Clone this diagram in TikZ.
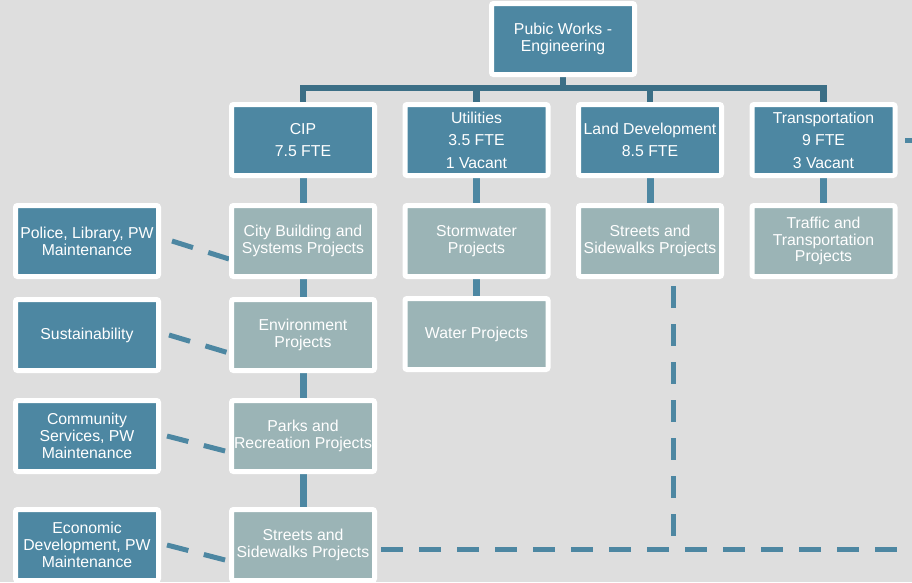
\documentclass[tikz,border=0pt]{standalone}
\usepackage{fontspec}
\setmainfont{Liberation Sans}
\usetikzlibrary{positioning,backgrounds}
\definecolor{pwblue}{HTML}{4D87A2}
\definecolor{pwsage}{HTML}{9BB4B6}
\definecolor{pwdark}{HTML}{3C6F86}
\definecolor{pwbg}{HTML}{DEDEDE}

\begin{document}
\begin{tikzpicture}[x=1pt,y=-1pt,
    box/.style={draw=white,line width=5pt,rounded corners=2pt,text=white,align=center,inner sep=0pt,
      minimum width=143pt,minimum height=71pt,font=\fontsize{15.8}{16.8}\selectfont},
    dbox/.style={box,fill=pwblue},
    lbox/.style={box,fill=pwsage},
    unit/.style={dbox,font=\fontsize{15.8}{22.5}\selectfont},
    bus/.style={draw=pwdark,line width=6.5pt},
    stem/.style={draw=pwblue,line width=7pt},
    dashlink/.style={draw=pwblue,line width=5pt,dash pattern=on 22pt off 16pt}]
  \useasboundingbox (0,0) rectangle (912,582);

  % top and divisions
  \node[dbox] (pwe) at (563,39) {Pubic Works -\\Engineering};
  \node[unit] (cip) at (303,140) {CIP\\7.5 FTE};
  \node[unit,right=25.5pt of cip] (util) {Utilities\\3.5 FTE\\1 Vacant};
  \node[unit,right=25.5pt of util] (land) {Land Development\\8.5 FTE};
  \node[unit,right=25.5pt of land] (trans) {Transportation\\9 FTE\\3 Vacant};

  % project groups
  \node[lbox,below=25pt of cip] (cbs) {City Building and\\Systems Projects};
  \node[lbox,below=18pt of cbs] (env) {Environment\\Projects};
  \node[lbox,below=25pt of env] (parks) {Parks and\\Recreation Projects};
  \node[lbox,below=33pt of parks] (cips) {Streets and\\Sidewalks Projects};
  \node[lbox,below=25pt of util] (storm) {Stormwater\\Projects};
  \node[lbox,below=17pt of storm] (water) {Water Projects};
  \node[lbox,below=25pt of land] (lds) {Streets and\\Sidewalks Projects};
  \node[lbox,below=25pt of trans] (traffic) {Traffic and\\Transportation\\Projects};

  % partners
  \node[dbox,left=68pt of cbs] (pol) {Police, Library, PW\\Maintenance};
  \node[dbox,left=68pt of env] (sus) {Sustainability};
  \node[dbox,left=68pt of parks] (com) {Community\\Services, PW\\Maintenance};
  \node[dbox,left=68pt of cips] (eco) {Economic\\Development, PW\\Maintenance};

  \coordinate (busy) at (0,88);
  \coordinate (rim) at (915,0);
  \path ([yshift=8pt]cips.east -| 673,0) coordinate (jn);
  \coordinate (offr) at (915,140);

  \begin{scope}[on background layer]
    \fill[pwbg] (0,0) rectangle (912,582);
    \draw[bus] (pwe.south) -- (pwe.south |- busy);
    \draw[bus] (cip.north) -- (cip.north |- busy) -- (trans.north |- busy) -- (trans.north);
    \foreach \u in {util,land} \draw[bus] (\u.north) -- (\u.north |- busy);
    \draw[stem] (cip) -- (cbs) -- (env) -- (parks) -- (cips);
    \draw[stem] (util) -- (storm) -- (water);
    \draw[stem] (land) -- (lds);
    \draw[stem] (trans) -- (traffic);
    \draw[stem,line width=5pt] ([xshift=7.5pt]trans.east) -- (offr);
    \draw[dashlink] ([xshift=11pt]pol.east) -- ([yshift=-18pt]cbs.west);
    \draw[dashlink] ([xshift=8pt]sus.east) -- ([yshift=-18pt]env.west);
    \draw[dashlink] ([xshift=6pt]com.east) -- ([yshift=-16pt]parks.west);
    \draw[dashlink] ([xshift=6pt]eco.east) -- ([yshift=-16pt]cips.west);
    \draw[dashlink] ([xshift=4pt,yshift=-4pt]cips.east) -- ([yshift=-4pt]cips.east -| rim);
    \draw[dashlink] ([yshift=-7pt]lds.south -| jn) -- (jn);
  \end{scope}
\end{tikzpicture}
\end{document}
